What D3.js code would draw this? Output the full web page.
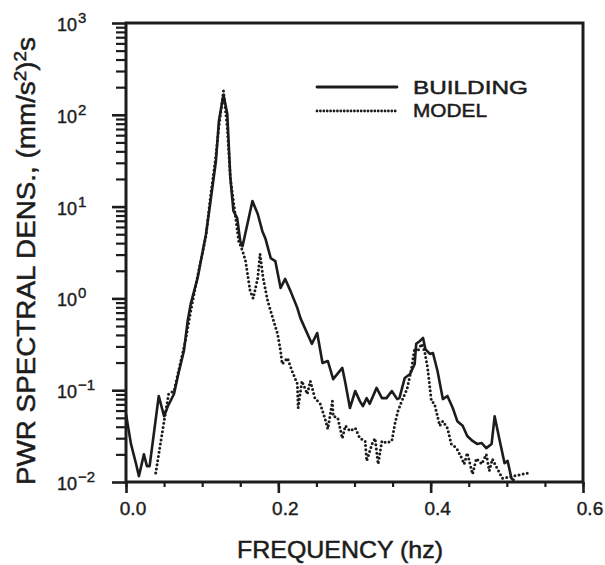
<!DOCTYPE html>
<html>
<head>
<meta charset="utf-8">
<script src="https://cdn.jsdelivr.net/npm/d3@7"></script>
<style>
  html, body { margin: 0; padding: 0; background: #fff; }
  svg { display: block; }
  text { font-family: "Liberation Sans", Arial, sans-serif; fill: #1c1c1c; }
</style>
</head>
<body>
<svg id="chart" width="605" height="565"></svg>
<script>
// Power spectral density of the building response and of the model, [frequency (Hz), PSD (mm/s^2)^2 s]
const building = [
  [0, 0.055], [0.0065, 0.026], [0.013, 0.016], [0.017, 0.0116], [0.0235, 0.020], [0.0275, 0.0149],
  [0.031, 0.0149], [0.043, 0.0865], [0.050, 0.052], [0.055, 0.067], [0.063, 0.091], [0.069, 0.154],
  [0.076, 0.267], [0.081, 0.57], [0.085, 0.87], [0.094, 1.67], [0.105, 5.0], [0.111, 11.5],
  [0.118, 31], [0.122, 86], [0.128, 165], [0.133, 102], [0.137, 20.5], [0.141, 9.0], [0.146, 7.5],
  [0.150, 4.2], [0.153, 3.7], [0.166, 11.5], [0.173, 8.3], [0.179, 5.4], [0.183, 4.5], [0.190, 2.75],
  [0.196, 2.55], [0.203, 1.30], [0.209, 1.63], [0.216, 1.20], [0.225, 0.785], [0.229, 0.61],
  [0.244, 0.32], [0.251, 0.42], [0.258, 0.198], [0.265, 0.208], [0.272, 0.132], [0.284, 0.175],
  [0.288, 0.120], [0.294, 0.064], [0.301, 0.098], [0.307, 0.076], [0.311, 0.067], [0.316, 0.082],
  [0.320, 0.071], [0.329, 0.106], [0.336, 0.082], [0.342, 0.082], [0.349, 0.098], [0.356, 0.080],
  [0.359, 0.082], [0.366, 0.136], [0.373, 0.150], [0.379, 0.193], [0.381, 0.32], [0.386, 0.344],
  [0.390, 0.371], [0.393, 0.281], [0.399, 0.248], [0.403, 0.254], [0.409, 0.162], [0.416, 0.080],
  [0.422, 0.0865], [0.429, 0.064], [0.435, 0.046], [0.442, 0.041], [0.448, 0.0317], [0.455, 0.028],
  [0.461, 0.026], [0.467, 0.0266], [0.473, 0.0234], [0.480, 0.026], [0.484, 0.052], [0.490, 0.030],
  [0.497, 0.016], [0.501, 0.017], [0.506, 0.011], [0.510, 0.0103]
];

const model = [
  [0.039, 0.0125], [0.050, 0.046], [0.056, 0.091], [0.063, 0.098], [0.069, 0.162], [0.078, 0.344],
  [0.085, 0.73], [0.094, 1.75], [0.105, 4.8], [0.111, 13], [0.118, 35.6], [0.122, 75], [0.128, 182],
  [0.133, 72], [0.137, 20.5], [0.144, 7.5], [0.148, 4.2], [0.153, 3.3], [0.157, 2.55], [0.163, 1.20],
  [0.167, 1.0], [0.173, 1.67], [0.176, 3.05], [0.180, 1.67], [0.186, 0.94], [0.199, 0.41],
  [0.203, 0.267], [0.205, 0.193], [0.212, 0.224], [0.218, 0.162], [0.225, 0.117], [0.226, 0.064],
  [0.231, 0.126], [0.238, 0.091], [0.242, 0.126], [0.248, 0.082], [0.255, 0.071], [0.261, 0.050],
  [0.265, 0.0378], [0.271, 0.076], [0.272, 0.052], [0.278, 0.050], [0.284, 0.030], [0.288, 0.041],
  [0.294, 0.036], [0.301, 0.0387], [0.307, 0.030], [0.314, 0.028], [0.316, 0.017], [0.323, 0.026],
  [0.327, 0.030], [0.331, 0.0157], [0.336, 0.028], [0.342, 0.0266], [0.349, 0.028], [0.353, 0.043],
  [0.357, 0.059], [0.362, 0.076], [0.369, 0.103], [0.375, 0.175], [0.379, 0.288], [0.383, 0.267],
  [0.388, 0.32], [0.392, 0.267], [0.396, 0.175], [0.401, 0.076], [0.405, 0.071], [0.412, 0.041],
  [0.416, 0.046], [0.422, 0.0387], [0.427, 0.026], [0.434, 0.0234], [0.441, 0.018], [0.444, 0.0157],
  [0.448, 0.0207], [0.455, 0.0122], [0.460, 0.018], [0.467, 0.0157], [0.473, 0.020], [0.477, 0.0132],
  [0.481, 0.0178], [0.494, 0.011], [0.503, 0.0113], [0.527, 0.0125]
];

const xMajorTicks = [0, 0.2, 0.4, 0.6];
const xTickLabels = ["0.0", "0.2", "0.4", "0.6"];
const xMinorStep = 0.05;
const yDecadeExponents = [-2, -1, 0, 1, 2, 3];
const seriesNames = ["BUILDING", "MODEL"];

const svg = d3.select("#chart");
const ink = "#1c1c1c";

const x = d3.scaleLinear().domain([0, 0.6]).range([126, 583]);
const y = d3.scaleLog().domain([1e-2, 1e3]).range([482, 23]);

// y ticks: decades (long) and 2..9 within each decade (short), pointing outward
const yMajor = yDecadeExponents.map(e => Math.pow(10, e));
const yMinor = [];
yDecadeExponents.slice(0, -1).forEach(e => {
  for (let k = 2; k <= 9; k++) yMinor.push(k * Math.pow(10, e));
});
const xMinor = d3.range(0, 0.6 + 1e-9, xMinorStep);

function styleAxis(g, width) {
  g.select(".domain").remove();
  g.selectAll("line").attr("stroke", ink).attr("stroke-width", width);
  g.selectAll("text").remove();
}

svg.append("g").attr("transform", `translate(${x(0)},0)`)
  .call(d3.axisLeft(y).tickValues(yMinor).tickSize(10).tickFormat(""))
  .call(g => styleAxis(g, 2.2));
svg.append("g").attr("transform", `translate(${x(0)},0)`)
  .call(d3.axisLeft(y).tickValues(yMajor).tickSize(14).tickFormat(""))
  .call(g => styleAxis(g, 2.6));
svg.append("g").attr("transform", `translate(0,${y(1e-2)})`)
  .call(d3.axisBottom(x).tickValues(xMinor).tickSize(5).tickFormat(""))
  .call(g => styleAxis(g, 2.2));
svg.append("g").attr("transform", `translate(0,${y(1e-2)})`)
  .call(d3.axisBottom(x).tickValues(xMajorTicks).tickSize(11).tickFormat(""))
  .call(g => styleAxis(g, 2.6));

// plot frame
svg.append("rect")
  .attr("x", x(0)).attr("y", y(1e3))
  .attr("width", x(0.6) - x(0)).attr("height", y(1e-2) - y(1e3))
  .attr("fill", "none").attr("stroke", ink).attr("stroke-width", 3);

// y tick labels: 10 with raised exponent
const yLab = svg.append("g");
yDecadeExponents.forEach(e => {
  const t = yLab.append("text")
    .attr("x", 57).attr("y", y(Math.pow(10, e)) + 8)
    .attr("font-size", 18).attr("stroke", ink).attr("stroke-width", 0.4);
  t.append("tspan").text("10");
  t.append("tspan").attr("font-size", 15).attr("dy", -8).attr("dx", 1)
    .text(e < 0 ? "\u2212" + Math.abs(e) : String(e));
});

// x tick labels
svg.append("g").selectAll("text")
  .data(xMajorTicks)
  .join("text")
  .attr("x", d => x(d) + 7)
  .attr("y", 515)
  .attr("text-anchor", "middle")
  .attr("font-size", 19)
  .attr("stroke", ink).attr("stroke-width", 0.4)
  .text((d, i) => xTickLabels[i]);

// axis titles
svg.append("text")
  .attr("x", 340).attr("y", 558)
  .attr("text-anchor", "middle")
  .attr("font-size", 24)
  .attr("stroke", ink).attr("stroke-width", 0.5)
  .attr("textLength", 206).attr("lengthAdjust", "spacingAndGlyphs")
  .text("FREQUENCY (hz)");

const yt = svg.append("text")
  .attr("transform", "translate(35,485) rotate(-90)")
  .attr("font-size", 25)
  .attr("stroke", ink).attr("stroke-width", 0.5)
  .attr("textLength", 448).attr("lengthAdjust", "spacingAndGlyphs");
yt.append("tspan").text("PWR SPECTRAL DENS., (mm/s");
yt.append("tspan").attr("font-size", 17).attr("dy", -9).text("2");
yt.append("tspan").attr("dy", 9).text(")");
yt.append("tspan").attr("font-size", 17).attr("dy", -9).text("2");
yt.append("tspan").attr("dy", 9).text("s");

// spectra
svg.append("clipPath").attr("id", "plotClip")
  .append("rect").attr("x", x(0)).attr("y", y(1e3) - 4)
  .attr("width", x(0.6) - x(0)).attr("height", y(1e-2) - y(1e3) + 4);

const line = d3.line().x(d => x(d[0])).y(d => y(d[1]));
const plot = svg.append("g").attr("clip-path", "url(#plotClip)");

plot.append("path")
  .datum(building)
  .attr("d", line)
  .attr("fill", "none").attr("stroke", ink)
  .attr("stroke-width", 2.6).attr("stroke-linejoin", "round");

plot.append("path")
  .datum(model)
  .attr("d", line)
  .attr("fill", "none").attr("stroke", ink)
  .attr("stroke-width", 3).attr("stroke-linecap", "round")
  .attr("stroke-dasharray", "0 4.2");

// legend
const legend = svg.append("g");
const legendRows = [
  { name: seriesNames[0], ly: 87, ty: 94, dash: null, w: 2.8, len: 115 },
  { name: seriesNames[1], ly: 111, ty: 117, dash: "0 3.4", w: 2.8, len: 74 }
];
legendRows.forEach(r => {
  legend.append("line")
    .attr("x1", 317).attr("x2", 397).attr("y1", r.ly).attr("y2", r.ly)
    .attr("stroke", ink).attr("stroke-width", r.w)
    .attr("stroke-linecap", "round")
    .attr("stroke-dasharray", r.dash);
  legend.append("text")
    .attr("x", 413).attr("y", r.ty)
    .attr("font-size", 19)
    .attr("stroke", ink).attr("stroke-width", 0.5)
    .attr("textLength", r.len)
    .attr("lengthAdjust", "spacingAndGlyphs")
    .text(r.name);
});
</script>
</body>
</html>
